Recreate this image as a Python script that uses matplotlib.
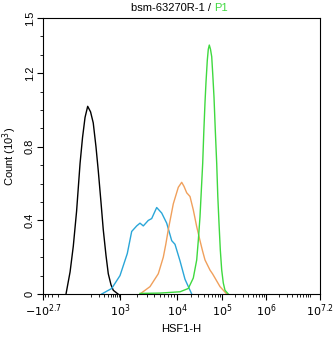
import numpy as np
import matplotlib.pyplot as plt

plt.rcParams['font.family'] = ['Liberation Sans', 'DejaVu Sans']

# Eixo biexponencial: valores de referência e posição relativa no eixo
knot_vals = np.array([-10**2.7, 0, 1e3, 1e4, 1e5, 1e6, 1e7, 10**7.2])
knot_pos = np.array([43, 72, 120, 177, 222, 266, 310, 320], dtype=float)
C = 50.0

def fwd(x):
    return np.interp(np.arcsinh(np.asarray(x, float) / C), np.arcsinh(knot_vals / C), knot_pos)

def inv(p):
    return C * np.sinh(np.interp(np.asarray(p, float), knot_pos, np.arcsinh(knot_vals / C)))

# Histogramas (HSF1-H, contagem em 10^3)
black_x = [-33, -10, 5, 18, 33, 45, 59, 76, 98, 123, 154, 185, 229, 274, 339, 405, 500, 597, 857]
black_y = [0, 0.12, 0.26, 0.45, 0.71, 0.85, 0.96, 1.02, 0.99, 0.93, 0.80, 0.67, 0.50, 0.35, 0.21,
           0.11, 0.05, 0.02, 0]

blue_x = [243, 527, 1000, 1343, 1604, 1963, 2243, 2563, 3137, 3597, 4403,
          5393, 6597, 8072, 9225, 11660, 15060, 21210]
blue_y = [0, 0.03, 0.10, 0.22, 0.34, 0.37, 0.385, 0.37, 0.40, 0.41, 0.47,
          0.44, 0.385, 0.29, 0.27, 0.18, 0.08, 0]

orange_x = [2243, 3360, 4697, 5750, 6360, 7036, 7786, 8610, 10690, 12720, 14310, 16430,
            19450, 23030, 27400, 32440, 36880, 41900, 54100, 61500, 69850, 90300, 127900]
orange_y = [0, 0.04, 0.11, 0.20, 0.27, 0.35, 0.42, 0.49, 0.58, 0.607, 0.585, 0.55,
            0.53, 0.457, 0.366, 0.29, 0.235, 0.185, 0.13, 0.11, 0.087, 0.04, 0]

green_x = [2243, 5030, 11660, 17830, 23030, 27400, 29720, 32440, 34670, 37240, 39400,
           41900, 44070, 47130, 49600, 52210, 55500, 59060, 62460, 66400, 70960,
           76250, 80680, 85800, 91700, 98500, 107000, 117000, 139000]
green_y = [0.003, 0.005, 0.012, 0.03, 0.087, 0.185, 0.29, 0.42, 0.56, 0.71, 0.88,
           1.04, 1.15, 1.27, 1.33, 1.353, 1.33, 1.29, 1.19, 1.07, 0.89,
           0.71, 0.53, 0.385, 0.24, 0.13, 0.06, 0.02, 0]

xticks = [-10**2.7, 1e3, 1e4, 1e5, 1e6, 10**7.2]
xticklabels = ['$-10^{2.7}$', '$10^3$', '$10^4$', '$10^5$', '$10^6$', '$10^{7.2}$']
yticks = [0, 0.4, 0.8, 1.2, 1.5]
yticklabels = ['0', '0.4', '0.8', '1.2', '1.5']

fig = plt.figure(figsize=(3.34, 3.37), dpi=100)
ax = fig.add_axes([43/334, 43/337, 277/334, 276/337])
ax.set_xscale('function', functions=(fwd, inv))

ax.plot(black_x, black_y, color='black', lw=1)
ax.plot(blue_x, blue_y, color='#2aa6d8', lw=1)
ax.plot(orange_x, orange_y, color='#f0a05c', lw=1)
ax.plot(green_x, green_y, color='#3fd93f', lw=1)

ax.set_xlim(-10**2.7, 10**7.2)
ax.set_ylim(0, 1.5)

ax.set_xticks(xticks)
ax.set_xticklabels(xticklabels, fontsize=8)
minor = list(range(-400, 0, 100)) + list(range(100, 1000, 100))
for d in range(3, 7):
    minor += [k * 10**d for k in range(2, 10)]
minor += [1e7]
ax.set_xticks(minor, minor=True)
ax.set_yticks(yticks)
ax.set_yticklabels(yticklabels, fontsize=8, rotation=90, va='center')
ax.set_yticks(np.arange(0, 1.51, 0.1), minor=True)
ax.tick_params(axis='both', which='major', length=4, width=0.8, pad=2)
ax.tick_params(axis='both', which='minor', length=2, width=0.6)

ax.set_xlabel('HSF1-H', fontsize=8, labelpad=4)
ax.set_ylabel('Count (10$^3$)', fontsize=8, labelpad=4)

fig.text(214/334, 0.976, 'bsm-63270R-1 / ', ha='right', va='center', fontsize=8)
fig.text(214/334, 0.976, 'P1', ha='left', va='center', fontsize=8, color='#3fd93f')

fig.savefig('out.png', dpi=100)
